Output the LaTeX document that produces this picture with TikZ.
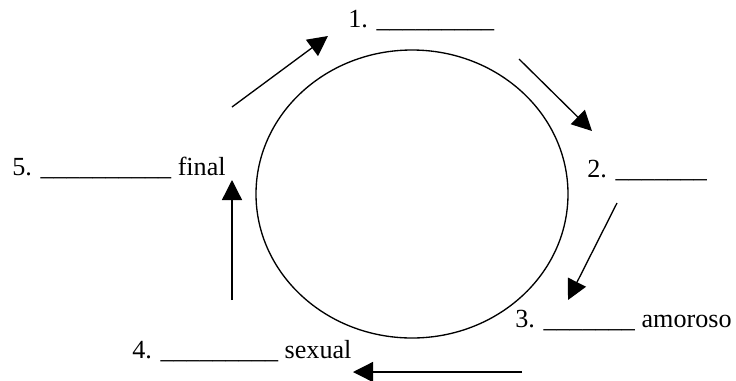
\documentclass[tikz,border=0pt]{standalone}
\usepackage{fontspec}
\setmainfont{Liberation Serif}
\usetikzlibrary{arrows.meta}

\tikzset{
	blank/.style = {anchor = base west, inner sep = 0pt, font = \fontsize{19.6}{23}\selectfont},
	cyclearrow/.style = {line width = 1pt, -{Triangle[length = 15pt, width = 15pt]}}
}

\begin{document}
\begin{tikzpicture}[x = 0.75pt, y = -0.75pt]
		\useasboundingbox (0,0) rectangle (736,380);
		\draw[line width = 1pt] (412,194) ellipse [x radius = 156, y radius = 144];
		\node[blank] (stage1) at (348,27) {1. \_\_\_\_\_\_\_\_\_};
		\node[blank] (stage2) at (587,177) {2. \_\_\_\_\_\_\_};
		\node[blank] (stage3) at (515,327) {3. \_\_\_\_\_\_\_ amoroso};
		\node[blank] (stage4) at (132,358) {4. \_\_\_\_\_\_\_\_\_ sexual};
		\node[blank] (stage5) at (12,175) {5. \_\_\_\_\_\_\_\_\_\_ final};
		% ends of the arrows
		\coordinate (a1s) at (232,107); \coordinate (a1e) at (328,36);
		\coordinate (a2s) at (519,59);  \coordinate (a2e) at (592,131);
		\coordinate (a3s) at (617,203); \coordinate (a3e) at (568,300);
		\coordinate (a4s) at (522,372); \coordinate (a4e) at (353,372);
		\coordinate (a5s) at (232,300); \coordinate (a5e) at (232,180);
		\draw[cyclearrow] (a1s) -- (a1e);
		\draw[cyclearrow] (a2s) -- (a2e);
		\draw[cyclearrow] (a3s) -- (a3e);
		\draw[cyclearrow] (a4s) -- (a4e);
		\draw[cyclearrow] (a5s) -- (a5e);
	\end{tikzpicture}
\end{document}
